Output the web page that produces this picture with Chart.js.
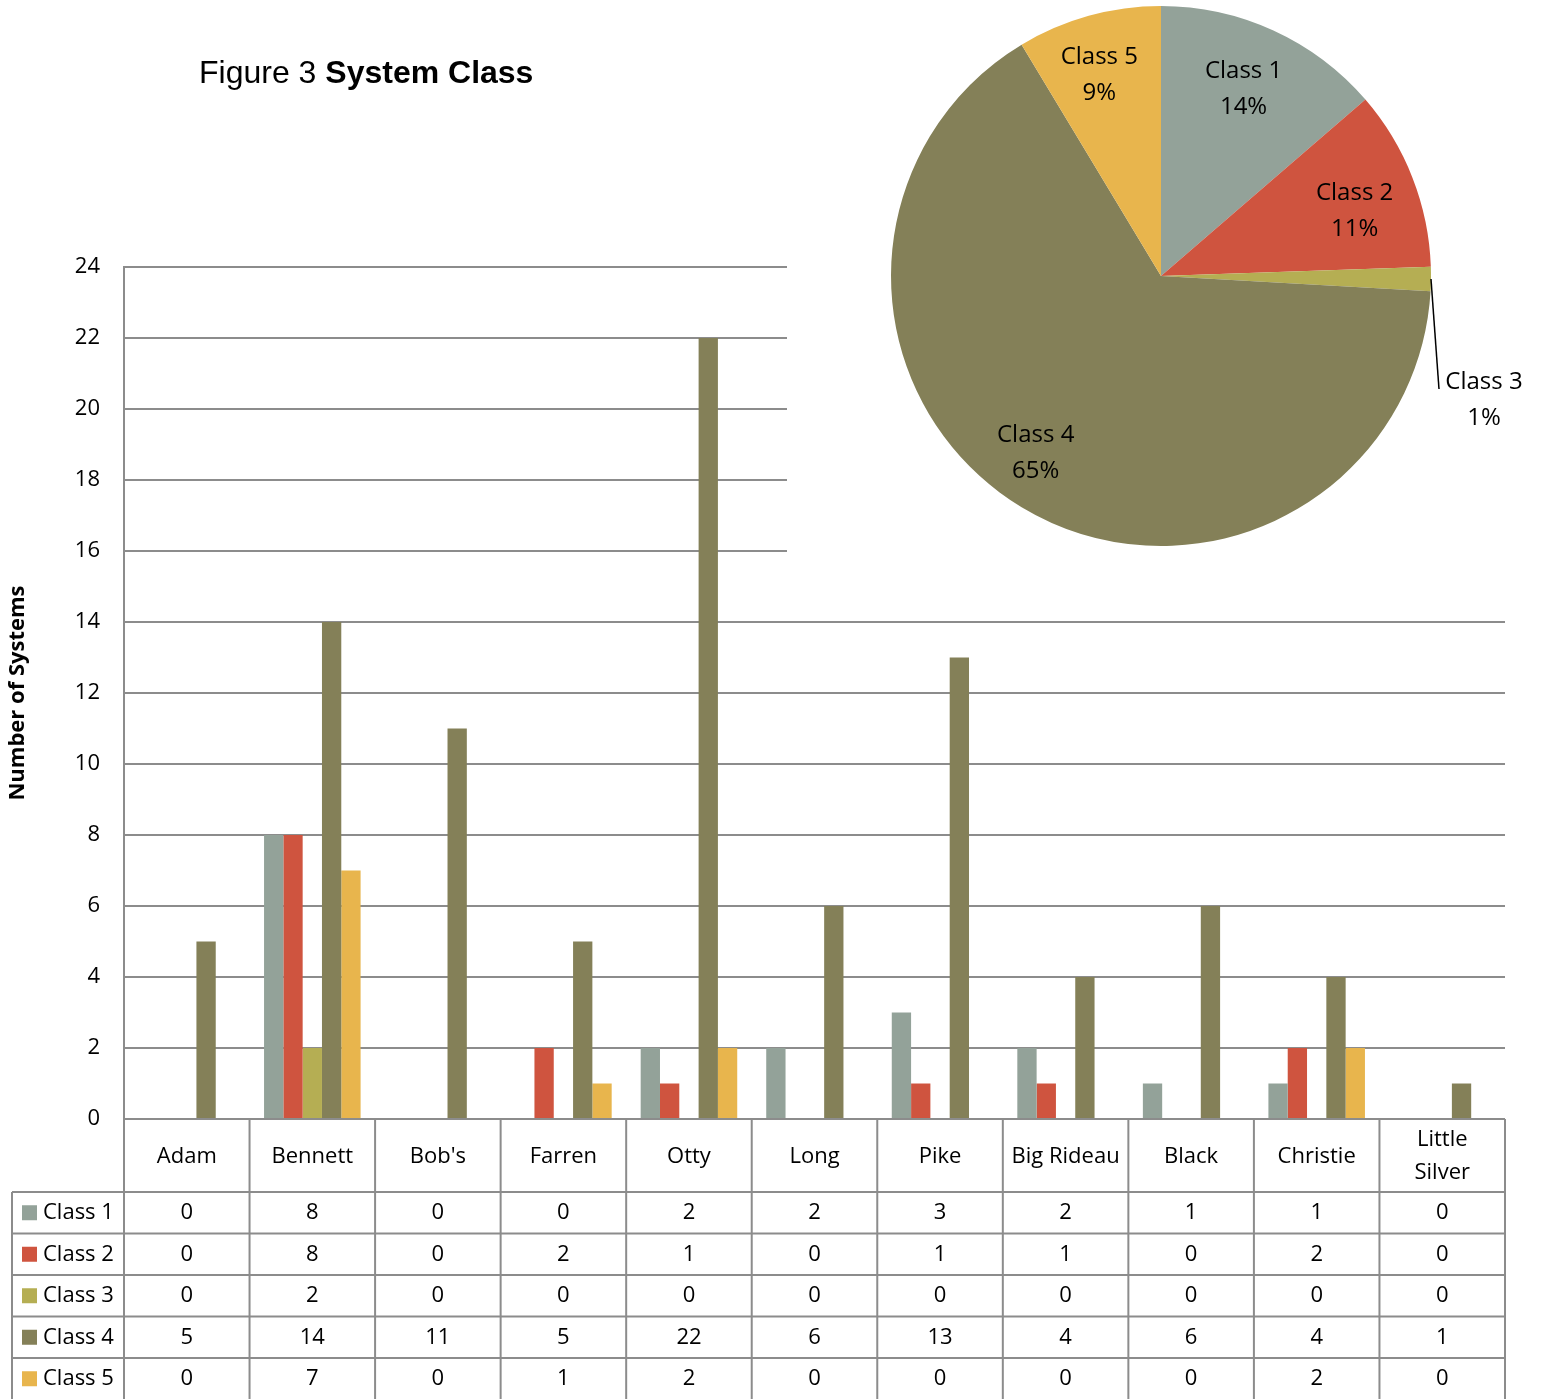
<!DOCTYPE html>
<html>
<head>
<meta charset="utf-8">
<script src="https://cdn.jsdelivr.net/npm/chart.js@4.4.1/dist/chart.umd.min.js"></script>
<style>
  html, body { margin: 0; padding: 0; background: #fff; }
  #wrap { position: relative; width: 1541px; height: 1399px; overflow: hidden; background: #fff; }
  #bars { position: absolute; left: 0; top: 0; }
  #title { position: absolute; left: 199px; top: 52px; font-family: "Liberation Sans", Arial, sans-serif;
           font-size: 32px; color: #000; white-space: nowrap; line-height: 40px; }
  #pieBox { position: absolute; left: 787px; top: 0; width: 754px; height: 590px; background: #fff; }
  #pie { position: absolute; left: 0; top: 0; }
</style>
</head>
<body>
<div id="wrap">
  <canvas id="bars" width="1541" height="1399"></canvas>
  <div id="title">Figure 3 <b>System Class</b></div>
  <div id="pieBox"><canvas id="pie" width="754" height="590"></canvas></div>
</div>
<script>
// Lakes (columns of the data table); multi-line names are given as arrays
const categories = ['Adam', 'Bennett', "Bob's", 'Farren', 'Otty', 'Long', 'Pike', 'Big Rideau', 'Black', 'Christie', ['Little', 'Silver']];

// Number of systems per class at each lake
const class1 = [0, 8, 0, 0, 2, 2, 3, 2, 1, 1, 0];
const class2 = [0, 8, 0, 2, 1, 0, 1, 1, 0, 2, 0];
const class3 = [0, 2, 0, 0, 0, 0, 0, 0, 0, 0, 0];
const class4 = [5, 14, 11, 5, 22, 6, 13, 4, 6, 4, 1];
const class5 = [0, 7, 0, 1, 2, 0, 0, 0, 0, 2, 0];

const seriesNames = ['Class 1', 'Class 2', 'Class 3', 'Class 4', 'Class 5'];
const seriesColors = ['#93A299', '#CF543F', '#B5AE53', '#848058', '#E8B54D'];
const seriesData = [class1, class2, class3, class4, class5];

// Y axis range
const yMin = 0;
const yMax = 24;
const yStep = 2;

const FONT = '"Open Sans", Lato, sans-serif';
const GRID = '#8c8c8c';

// Data table drawn beneath the plot area, aligned with the category scale
const dataTablePlugin = {
  id: 'dataTable',
  afterDraw(chart) {
    const ctx = chart.ctx;
    const x = chart.scales.x;
    const area = chart.chartArea;
    const n = categories.length;
    const colW = (area.right - area.left) / n;
    const headerBottom = area.bottom + 73;
    const rowH = 41.5;
    const legendLeft = 12;
    const bottom = chart.height + 2;

    ctx.save();
    ctx.strokeStyle = GRID;
    ctx.lineWidth = 2;

    // horizontal rules
    ctx.beginPath();
    ctx.moveTo(area.left, area.bottom);
    ctx.lineTo(area.right, area.bottom);
    for (let r = 0; r < seriesNames.length; r++) {
      const y = headerBottom + r * rowH;
      ctx.moveTo(legendLeft, y);
      ctx.lineTo(area.right, y);
    }
    // vertical rules
    for (let c = 0; c <= n; c++) {
      const xx = area.left + c * colW;
      ctx.moveTo(xx, area.bottom);
      ctx.lineTo(xx, bottom);
    }
    ctx.moveTo(legendLeft, headerBottom);
    ctx.lineTo(legendLeft, bottom);
    ctx.stroke();

    ctx.fillStyle = '#000';
    ctx.font = '22px ' + FONT;
    ctx.textAlign = 'center';
    ctx.textBaseline = 'middle';

    // header: category names
    const headerMid = (area.bottom + headerBottom) / 2 + 1;
    categories.forEach((cat, i) => {
      const cx = x.getPixelForValue(i);
      const lines = Array.isArray(cat) ? cat : [cat];
      const lh = 33;
      lines.forEach((ln, k) => {
        ctx.fillText(ln, cx, headerMid + (k - (lines.length - 1) / 2) * lh);
      });
    });

    // rows: legend key + values
    seriesNames.forEach((name, r) => {
      const cy = headerBottom + r * rowH + rowH / 2;
      ctx.fillStyle = seriesColors[r];
      ctx.fillRect(22, cy - 7.5, 15, 15);
      ctx.fillStyle = '#000';
      ctx.textAlign = 'left';
      ctx.fillText(name, 43, cy);
      ctx.textAlign = 'center';
      seriesData[r].forEach((v, i) => {
        ctx.fillText(String(v), x.getPixelForValue(i), cy);
      });
    });
    ctx.restore();
  }
};

new Chart(document.getElementById('bars'), {
  type: 'bar',
  data: {
    labels: categories,
    datasets: seriesNames.map((name, i) => ({
      label: name,
      data: seriesData[i],
      backgroundColor: seriesColors[i],
      borderWidth: 0,
      categoryPercentage: 0.769,
      barPercentage: 1.0
    }))
  },
  options: {
    responsive: false,
    devicePixelRatio: 1,
    animation: false,
    layout: { padding: { left: 0, right: 36, top: 267, bottom: 280 } },
    plugins: { legend: { display: false }, tooltip: { enabled: false } },
    scales: {
      x: { display: false },
      y: {
        min: yMin,
        max: yMax,
        afterFit(scale) { scale.width = 124; },
        ticks: { stepSize: yStep, padding: 24, color: '#000', font: { family: FONT, size: 22 } },
        grid: { color: GRID, lineWidth: 2, drawTicks: false },
        border: { display: true, color: GRID, width: 2 },
        title: {
          display: true,
          text: 'Number of Systems',
          color: '#000',
          padding: { top: 5, bottom: 0 },
          font: { family: FONT, size: 22, weight: 'bold' }
        }
      }
    }
  },
  plugins: [dataTablePlugin]
});

// Overall share of each class across all lakes
const classTotals = seriesData.map(arr => arr.reduce((a, b) => a + b, 0));

// Label placement inside each slice (radius fraction and pixel nudge)
const labelRadius = [0.77, 0.77, 1.0, 0.77, 0.77];
const labelNudge = [[-4, 2], [0, 11], [0, 0], [-18, -1], [-6, -1]];

const pieLabelPlugin = {
  id: 'pieLabels',
  afterDraw(chart) {
    const ctx = chart.ctx;
    const meta = chart.getDatasetMeta(0);
    const total = classTotals.reduce((a, b) => a + b, 0);
    ctx.save();
    ctx.font = '24px ' + FONT;
    ctx.fillStyle = '#000';
    ctx.textAlign = 'center';
    ctx.textBaseline = 'middle';
    meta.data.forEach((arc, i) => {
      const p = arc.getProps(['x', 'y', 'startAngle', 'endAngle', 'outerRadius'], true);
      const mid = (p.startAngle + p.endAngle) / 2;
      const pct = Math.round(classTotals[i] / total * 100) + '%';
      if (i === 2) {
        // small slice: label outside with a leader line
        const ex = p.x + p.outerRadius * Math.cos(mid);
        const ey = p.y + p.outerRadius * Math.sin(mid);
        ctx.strokeStyle = '#000';
        ctx.lineWidth = 1.5;
        ctx.beginPath();
        ctx.moveTo(ex, ey);
        ctx.lineTo(ex + 8, ey + 110);
        ctx.stroke();
        ctx.fillText(seriesNames[i], ex + 53, ey + 103);
        ctx.fillText(pct, ex + 53, ey + 139);
      } else {
        const r = p.outerRadius * labelRadius[i];
        const lx = p.x + r * Math.cos(mid) + labelNudge[i][0];
        const ly = p.y + r * Math.sin(mid) + labelNudge[i][1];
        ctx.fillText(seriesNames[i], lx, ly - 18);
        ctx.fillText(pct, lx, ly + 18);
      }
    });
    ctx.restore();
  }
};

new Chart(document.getElementById('pie'), {
  type: 'pie',
  data: {
    labels: seriesNames,
    datasets: [{
      data: classTotals,
      backgroundColor: seriesColors,
      borderWidth: 0
    }]
  },
  options: {
    responsive: false,
    devicePixelRatio: 1,
    animation: false,
    layout: { padding: { left: 104, right: 110, top: 6, bottom: 44 } },
    plugins: { legend: { display: false }, tooltip: { enabled: false } }
  },
  plugins: [pieLabelPlugin]
});
</script>
</body>
</html>
